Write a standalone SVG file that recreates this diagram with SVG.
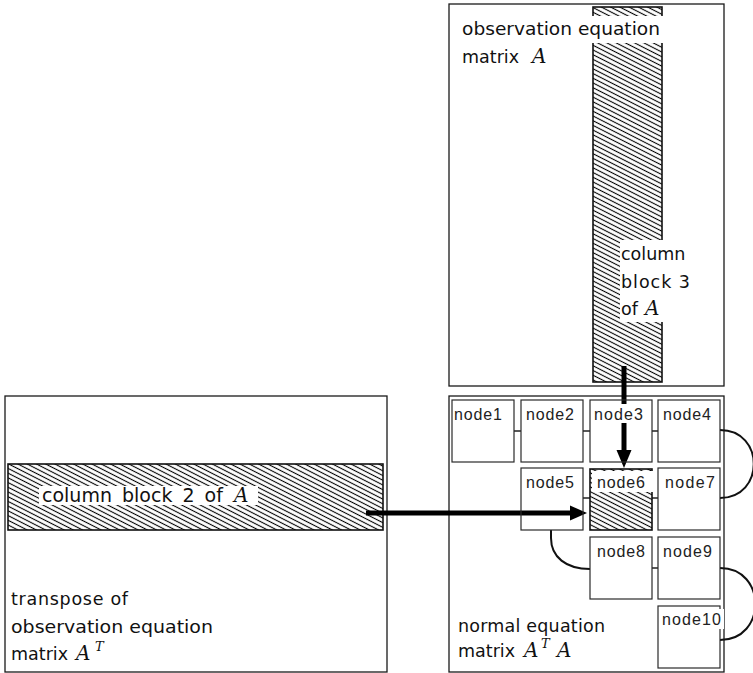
<svg xmlns="http://www.w3.org/2000/svg" width="753" height="673" viewBox="0 0 753 673">
  <defs>
    <pattern id="hatch" patternUnits="userSpaceOnUse" width="8" height="4.2" patternTransform="rotate(27)">
      <rect width="8" height="4.2" fill="#fff"/>
      <line x1="0" y1="2.1" x2="8" y2="2.1" stroke="#000" stroke-width="1.1"/>
    </pattern>
  </defs>
  <style>
    .box { fill: none; stroke: #1a1a1a; stroke-width: 1.3; }
    .band { fill: url(#hatch); stroke: #111; stroke-width: 1.6; }
    .bg { fill: #fff; stroke: none; }
    .lbl { font-family: "DejaVu Sans", "Liberation Sans", sans-serif; font-size: 17.5px; fill: #111; }
    .math { font-family: "DejaVu Serif", "Liberation Serif", serif; font-style: italic; font-size: 20px; fill: #111; }
    .sup { font-family: "DejaVu Serif", "Liberation Serif", serif; font-style: italic; font-size: 13px; fill: #111; }
    .node { fill: none; stroke: #2a2a2a; stroke-width: 1.2; }
    .node6 { fill: url(#hatch); stroke: #111; stroke-width: 1.6; }
    .ntxt { font-family: "Liberation Sans", Arial, sans-serif; font-size: 16px; fill: #222; }
    .link { fill: none; stroke: #222; stroke-width: 1.5; }
    .curve { fill: none; stroke: #111; stroke-width: 2; }
    .arrow { stroke: #000; stroke-width: 5; fill: none; }
    .head { fill: #000; stroke: none; }
  </style>

  <!-- observation equation matrix A -->
  <g id="matrixA">
    <rect class="box" x="449" y="4" width="275" height="382"/>
    <rect class="band" x="593" y="7" width="69" height="375"/>
    <rect class="bg" x="460" y="16" width="205" height="27"/>
    <text class="lbl" x="462" y="35" textLength="198" lengthAdjust="spacingAndGlyphs">observation equation</text>
    <text class="lbl" x="462" y="63">matrix</text>
    <text class="math" x="532" y="63">A</text>
    <rect class="bg" x="620" y="240" width="72" height="82"/>
    <text class="lbl" x="621" y="260">column</text>
    <text class="lbl" x="621" y="288" textLength="69" lengthAdjust="spacing">block 3</text>
    <text class="lbl" x="621" y="315">of</text>
    <text class="math" x="645" y="315">A</text>
  </g>

  <!-- transpose of observation equation matrix A^T -->
  <g id="matrixAT">
    <rect class="box" x="5" y="396" width="382" height="276"/>
    <rect class="band" x="8" y="464" width="375" height="66"/>
    <rect class="bg" x="39" y="486" width="219" height="19"/>
    <text class="lbl" x="42" y="502" style="font-size:19px;word-spacing:4px">column block 2 of</text>
    <text class="math" x="234" y="502">A</text>
    <text class="lbl" x="11" y="605" textLength="117" lengthAdjust="spacing">transpose of</text>
    <text class="lbl" x="11" y="633" textLength="202" lengthAdjust="spacingAndGlyphs">observation equation</text>
    <text class="lbl" x="11" y="660">matrix</text>
    <text class="math" x="76" y="660">A</text>
    <text class="sup" x="95" y="651">T</text>
  </g>

  <!-- normal equation matrix A^T A -->
  <g id="matrixATA">
    <rect class="box" x="449" y="396" width="275" height="276"/>
    <text class="lbl" x="458" y="632" textLength="147" lengthAdjust="spacing">normal equation</text>
    <text class="lbl" x="458" y="657">matrix</text>
    <text class="math" x="524" y="657">A</text>
    <text class="sup" x="541" y="648">T</text>
    <text class="math" x="557" y="657">A</text>
  </g>

  <!-- connectors -->
  <g id="connectors">
    <line class="link" x1="514" y1="431" x2="521" y2="431"/>
    <line class="link" x1="583" y1="431" x2="590" y2="431"/>
    <line class="link" x1="652" y1="431" x2="658" y2="431"/>
    <line class="link" x1="583" y1="498" x2="590" y2="498"/>
    <line class="link" x1="652" y1="498" x2="658" y2="498"/>
    <line class="link" x1="652" y1="568" x2="658" y2="568"/>
    <path class="curve" d="M720,430 C765,430 765,498 720,498"/>
    <path class="curve" d="M720,568 C767,568 767,640 720,640"/>
    <path class="curve" d="M551,530 L551,538 C551,557 566,569 590,569"/>
    <!-- column block 3 feeds node6 -->
    <line class="arrow" x1="624" y1="366" x2="624" y2="452"/>
    <polygon class="head" points="616.5,450 631.5,450 624,468"/>
    <!-- column block 2 feeds node6 -->
    <line class="arrow" x1="366" y1="513" x2="572" y2="513"/>
    <polygon class="head" points="570,505.5 570,520.5 587,513"/>
  </g>

  <!-- nodes of the normal equation matrix -->
  <g id="node1">
    <rect class="node" x="452" y="400" width="62" height="62"/>
    <rect class="bg" x="453" y="404" width="50" height="19"/>
    <text class="ntxt" x="454" y="419.5" textLength="48" lengthAdjust="spacing">node1</text>
  </g>
  <g id="node2">
    <rect class="node" x="521" y="400" width="62" height="62"/>
    <rect class="bg" x="525" y="404" width="50" height="19"/>
    <text class="ntxt" x="526" y="419.5" textLength="48" lengthAdjust="spacing">node2</text>
  </g>
  <g id="node3">
    <rect class="node" x="590" y="400" width="62" height="62"/>
    <rect class="bg" x="593" y="404" width="51" height="19"/>
    <text class="ntxt" x="594" y="419.5" textLength="49" lengthAdjust="spacing">node3</text>
  </g>
  <g id="node4">
    <rect class="node" x="658" y="400" width="62" height="62"/>
    <rect class="bg" x="662" y="404" width="50" height="19"/>
    <text class="ntxt" x="663" y="419.5" textLength="48" lengthAdjust="spacing">node4</text>
  </g>
  <g id="node5">
    <rect class="node" x="521" y="468" width="62" height="62"/>
    <rect class="bg" x="525" y="472" width="50" height="19"/>
    <text class="ntxt" x="526" y="487.5" textLength="48" lengthAdjust="spacing">node5</text>
  </g>
  <g id="node6">
    <rect class="node6" x="590" y="469" width="62" height="61"/>
    <rect class="bg" x="592" y="471" width="62" height="21"/>
    <text class="ntxt" x="597" y="487.5" textLength="48" lengthAdjust="spacing">node6</text>
  </g>
  <g id="node7">
    <rect class="node" x="658" y="468" width="62" height="62"/>
    <rect class="bg" x="664" y="472" width="52" height="19"/>
    <text class="ntxt" x="665" y="487.5" textLength="50" lengthAdjust="spacing">node7</text>
  </g>
  <g id="node8">
    <rect class="node" x="590" y="537" width="62" height="62"/>
    <rect class="bg" x="596" y="541" width="50" height="19"/>
    <text class="ntxt" x="597" y="556.5" textLength="48" lengthAdjust="spacing">node8</text>
  </g>
  <g id="node9">
    <rect class="node" x="658" y="537" width="62" height="62"/>
    <rect class="bg" x="662" y="541" width="51" height="19"/>
    <text class="ntxt" x="663" y="556.5" textLength="49" lengthAdjust="spacing">node9</text>
  </g>
  <g id="node10">
    <rect class="node" x="658" y="606" width="62" height="62"/>
    <rect class="bg" x="661" y="609" width="63" height="20"/>
    <text class="ntxt" x="662" y="624.5" textLength="59" lengthAdjust="spacing">node10</text>
  </g>
</svg>
